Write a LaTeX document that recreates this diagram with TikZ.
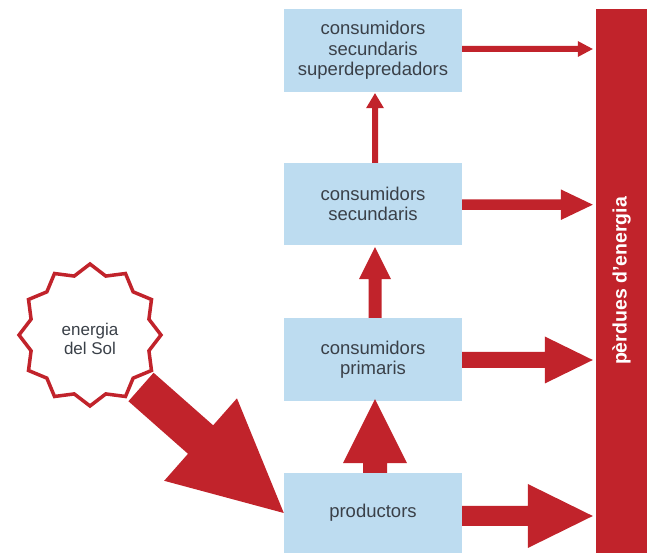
\documentclass[tikz,border=0pt]{standalone}
\usepackage{fontspec}
\setmainfont{Liberation Sans}
\usetikzlibrary{calc}
\definecolor{redc}{HTML}{C1232B}
\definecolor{boxc}{HTML}{BDDCF0}
\definecolor{txtc}{HTML}{3A4048}
% #1 start, #2 tip, #3 shaft half width, #4 head half width, #5 head length
\newcommand\blockarrow[5]{%
  \coordinate (hb) at ($(#2)!#5!(#1)$);
  \fill[redc] ($(#1)!#3!90:(#2)$) -- ($(hb)!#3!90:(#2)$) -- ($(hb)!#4!90:(#2)$)
    -- (#2) -- ($(hb)!#4!-90:(#2)$) -- ($(hb)!#3!-90:(#2)$) -- ($(#1)!#3!-90:(#2)$) -- cycle;}
\tikzset{
  box/.style={fill=boxc, minimum width=178pt, inner sep=0pt, align=center, text=txtc,
    font=\fontsize{18.5}{20.5}\selectfont},
  starline/.style={draw=redc, line width=3.5pt, fill=white, line join=miter},
}
\begin{document}
\begin{tikzpicture}[x=1pt,y=-1pt]
\useasboundingbox (0,0) rectangle (649,553);
% boxes
\node[box, minimum height=83pt] (super) at (373,50.5) {consumidors\\secundaris\\superdepredadors};
\node[box, minimum height=82pt] (sec) at (373,204) {consumidors\\secundaris};
\node[box, minimum height=83pt] (prim) at (373,359.5) {consumidors\\primaris};
\node[box, minimum height=80pt] (prod) at (373,513) {productors};
% bar
\node[fill=redc, minimum width=51pt, minimum height=544pt, inner sep=0pt] (bar) at (621.5,281) {};
\node[rotate=90, text=white, inner sep=0pt, font=\bfseries\fontsize{19.5}{22}\selectfont] (barlbl) at (bar.center) {pèrdues d'energia};
% sun
\coordinate (sunc) at (90,335);
\draw[starline] ($(sunc)+(0,71)$) \foreach \i in {1,...,23}{ -- ($(sunc)+({(isodd(\i)?61:71)*cos(90+15*\i)},{(isodd(\i)?61:71)*sin(90+15*\i)})$) } -- cycle;
\node[font=\fontsize{17}{19}\selectfont, text=txtc, align=center, inner sep=0pt] (sun) at (90,338.5) {energia\\del Sol};
% right arrows
\coordinate (s1) at ($(super.east)+(0,-1.5)$);
\coordinate (e1) at ($(bar.west|-s1)+(-3,0)$);
\blockarrow{s1}{e1}{3pt}{8pt}{15pt}
\coordinate (s2) at ($(sec.east)+(0,0.7)$);
\coordinate (e2) at ($(bar.west|-s2)+(-3,0)$);
\blockarrow{s2}{e2}{5.3pt}{15.3pt}{32pt}
\coordinate (s3) at ($(prim.east)+(0,0.5)$);
\coordinate (e3) at ($(bar.west|-s3)+(-3,0)$);
\blockarrow{s3}{e3}{8pt}{23.5pt}{48pt}
\coordinate (s4) at ($(prod.east)+(0,3)$);
\coordinate (e4) at ($(bar.west|-s4)+(-3,0)$);
\blockarrow{s4}{e4}{10pt}{32pt}{65pt}
% up arrows
\coordinate (u1s) at ($(sec.north)+(2,0)$);
\coordinate (u1e) at ($(super.south)+(2,1)$);
\blockarrow{u1s}{u1e}{3pt}{9pt}{15pt}
\coordinate (u2s) at ($(prim.north)+(2,0)$);
\coordinate (u2e) at ($(sec.south)+(2,2)$);
\blockarrow{u2s}{u2e}{6.5pt}{16pt}{32pt}
\coordinate (u3s) at ($(prod.north)+(2,0)$);
\coordinate (u3e) at ($(prim.south)+(2,-2)$);
\blockarrow{u3s}{u3e}{12pt}{32pt}{64pt}
% sun arrow
\coordinate (sunout) at ($(sun.center)+(51,48.5)$);
\blockarrow{sunout}{prod.west}{19pt}{55pt}{111pt}
\end{tikzpicture}
\end{document}
